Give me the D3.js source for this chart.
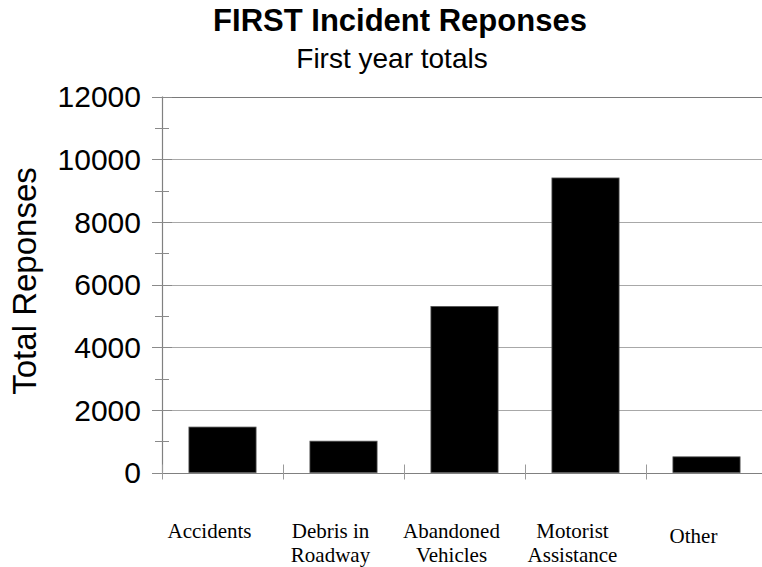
<!DOCTYPE html>
<html>
<head>
<meta charset="utf-8">
<script src="https://cdn.jsdelivr.net/npm/d3@7"></script>
<style>
  html, body { margin: 0; padding: 0; background: #fff; }
  svg { display: block; }
</style>
</head>
<body>
<svg id="chart" width="762" height="567"></svg>
<script>
// ---- data ----
const categories = ["Accidents", "Debris in Roadway", "Abandoned Vehicles", "Motorist Assistance", "Other"];
const categoryLines = [["Accidents"], ["Debris in", "Roadway"], ["Abandoned", "Vehicles"], ["Motorist", "Assistance"], ["Other"]];
const values = [1450, 1000, 5300, 9400, 500];
const yTicks = [0, 2000, 4000, 6000, 8000, 10000, 12000];
const yMinorTicks = [1000, 3000, 5000, 7000, 9000, 11000];
const titleText = "FIRST Incident Reponses";
const subtitleText = "First year totals";
const yTitleText = "Total Reponses";

// ---- layout ----
const svg = d3.select("#chart");
const pLeft = 162, pRight = 767, pTop = 96.5, pBottom = 472.5;

const x = d3.scaleBand().domain(categories).range([pLeft, pRight]).padding(0);
const y = d3.scaleLinear().domain([0, 12000]).range([pBottom, pTop]);
const barW = x.bandwidth() * 0.555;

// gridlines
svg.append("g").selectAll("line").data(yTicks.filter(d => d > 0)).join("line")
  .attr("x1", pLeft).attr("x2", pRight)
  .attr("y1", d => Math.round(y(d)) + 0.5).attr("y2", d => Math.round(y(d)) + 0.5)
  .attr("stroke", d => d === 12000 ? "#7a7a7a" : "#a8a8a8").attr("stroke-width", 1);

// bars
svg.append("g").selectAll("rect").data(values).join("rect")
  .attr("x", (d, i) => x(categories[i]) + (x.bandwidth() - barW) / 2)
  .attr("width", barW)
  .attr("y", d => y(d))
  .attr("height", d => y(0) - y(d))
  .attr("fill", "#000")
  .attr("stroke", "#555").attr("stroke-width", 0.8);

// y axis line
svg.append("line").attr("x1", pLeft + 0.5).attr("x2", pLeft + 0.5)
  .attr("y1", pTop).attr("y2", pBottom).attr("stroke", "#808080").attr("stroke-width", 1.2);

// major y ticks
svg.append("g").selectAll("line").data(yTicks).join("line")
  .attr("x1", pLeft - 10).attr("x2", pLeft + 10)
  .attr("y1", d => Math.round(y(d)) + 0.5).attr("y2", d => Math.round(y(d)) + 0.5)
  .attr("stroke", "#8a8a8a");
// minor y ticks
svg.append("g").selectAll("line").data(yMinorTicks).join("line")
  .attr("x1", pLeft - 7).attr("x2", pLeft + 7)
  .attr("y1", d => Math.round(y(d)) + 0.5).attr("y2", d => Math.round(y(d)) + 0.5)
  .attr("stroke", "#8a8a8a");

// x axis line
svg.append("line").attr("x1", pLeft).attr("x2", pRight)
  .attr("y1", Math.round(y(0)) + 0.5).attr("y2", Math.round(y(0)) + 0.5)
  .attr("stroke", "#808080").attr("stroke-width", 1.2);

// x ticks at band boundaries
const boundaries = categories.map(c => x(c)).concat([pRight]);
svg.append("g").selectAll("line").data(boundaries).join("line")
  .attr("x1", d => Math.round(d) + 0.5).attr("x2", d => Math.round(d) + 0.5)
  .attr("y1", y(0) - 8).attr("y2", y(0) + 7)
  .attr("stroke", "#9a9a9a");

// y tick labels
svg.append("g").selectAll("text").data(yTicks).join("text")
  .attr("x", pLeft - 21).attr("y", d => y(d)).attr("dy", "0.36em")
  .attr("text-anchor", "end")
  .attr("font-family", "Liberation Sans, Arial, sans-serif")
  .attr("font-size", 30).attr("fill", "#000")
  .text(d => d);

// x labels
const xl = svg.append("g").selectAll("text").data(categoryLines).join("text")
  .attr("text-anchor", "middle")
  .attr("font-family", "Liberation Serif, Times New Roman, serif")
  .attr("font-size", 21).attr("fill", "#000")
  .attr("transform", (d, i) => `translate(${x(categories[i]) + x.bandwidth() / 2 - 13},${d.length === 1 && i === categories.length - 1 ? 543 : 538})`);
xl.selectAll("tspan").data(d => d).join("tspan")
  .attr("x", 0).attr("dy", (d, i) => i === 0 ? 0 : 24)
  .text(d => d);

// titles
svg.append("text").attr("x", 400).attr("y", 31).attr("text-anchor", "middle")
  .attr("font-family", "Liberation Sans, Arial, sans-serif").attr("font-weight", "bold")
  .attr("font-size", 31).text(titleText);
svg.append("text").attr("x", 392).attr("y", 68).attr("text-anchor", "middle")
  .attr("font-family", "Liberation Sans, Arial, sans-serif")
  .attr("font-size", 28).text(subtitleText);
svg.append("text")
  .attr("transform", `translate(36,281) rotate(-90)`)
  .attr("text-anchor", "middle")
  .attr("font-family", "Liberation Sans, Arial, sans-serif")
  .attr("font-size", 33).text(yTitleText);
</script>
</body>
</html>
